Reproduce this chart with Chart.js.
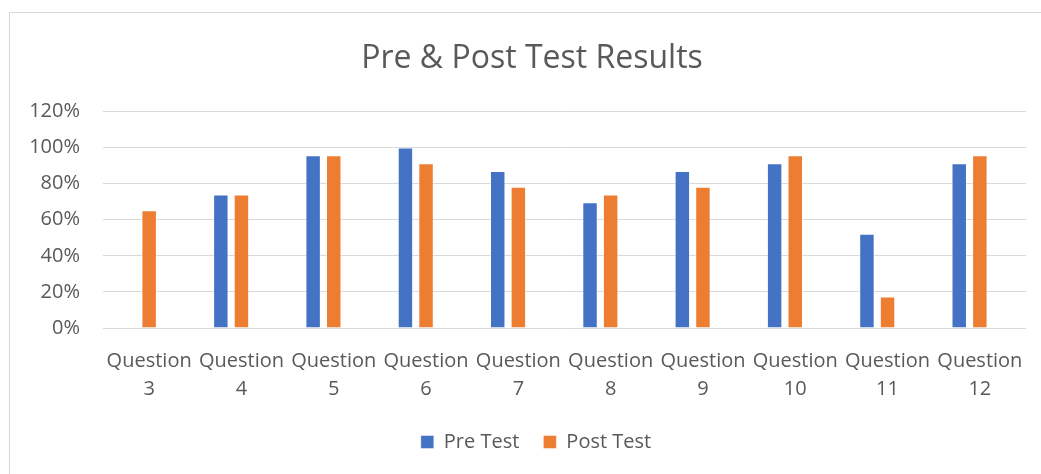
<!DOCTYPE html>
<html lang="en">
<head>
  <meta charset="UTF-8" />
  <title>Pre & Post Test Results</title>
  <script src="https://cdn.jsdelivr.net/npm/chart.js"></script>
  <style>
    html, body {
      margin: 0;
      padding: 0;
      background: #ffffff;
      overflow: hidden;
    }

    #wrap {
      position: relative;
      width: 1041px;
      height: 474px;
    }

    /* chart frame, only top and left edges show in the picture */
    #frame {
      position: absolute;
      left: 9px;
      top: 12px;
      width: 1100px;
      height: 500px;
      border: 1px solid #d9d9d9;
      pointer-events: none;
    }

    #chart {
      position: absolute;
      left: 0;
      top: 0;
    }
  </style>
</head>
<body>

  <div id="wrap">
    <div id="frame"></div>
    <canvas id="chart" width="1041" height="474"></canvas>
  </div>

  <script>
    // data (percent)
    const questions = [
      ['Question', '3'], ['Question', '4'], ['Question', '5'], ['Question', '6'],
      ['Question', '7'], ['Question', '8'], ['Question', '9'], ['Question', '10'],
      ['Question', '11'], ['Question', '12']
    ];
    const preTest  = [0, 73.9, 95.7, 100, 87.0, 69.6, 87.0, 91.3, 52.2, 91.3];
    const postTest = [65.2, 73.9, 95.7, 91.3, 78.3, 73.9, 78.3, 95.7, 17.4, 95.7];
    // the source chart keeps an empty third series, which takes a slot in each group
    const emptySeries = [];
    const yTicks = [0, 20, 40, 60, 80, 100, 120];

    const textColor = '#595959';
    const gridColor = '#d9d9d9';

    Chart.defaults.font.family = "'Open Sans', sans-serif";
    Chart.defaults.color = textColor;

    // title and legend sit a bit right of the canvas centre in the original
    const nudge = {
      id: 'nudge',
      afterLayout(chart) {
        const t = chart.titleBlock;
        if (t) { t.left += 9; t.right += 9; }
        const l = chart.legend;
        if (l) { l.left += 13; l.right += 13; }
      }
    };

    const barStyle = {
      borderColor: 'rgba(255,255,255,0.45)',
      borderWidth: 1,
      categoryPercentage: 0.67,
      barPercentage: 0.75
    };

    new Chart(document.getElementById('chart').getContext('2d'), {
      type: 'bar',
      data: {
        labels: questions,
        datasets: [
          Object.assign({ label: 'Pre Test', data: preTest, backgroundColor: '#4472C4' }, barStyle),
          Object.assign({ label: 'Post Test', data: postTest, backgroundColor: '#ED7D31' }, barStyle),
          Object.assign({ label: '', data: emptySeries, backgroundColor: '#A5A5A5' }, barStyle)
        ]
      },
      options: {
        responsive: false,
        animation: false,
        layout: {
          padding: { left: 20, right: 15, top: 0, bottom: 12 }
        },
        plugins: {
          title: {
            display: true,
            text: 'Pre & Post Test Results',
            color: textColor,
            font: { size: 32, weight: 'normal' },
            padding: { top: 40, bottom: 33 }
          },
          legend: {
            position: 'bottom',
            labels: {
              color: textColor,
              font: { size: 20 },
              boxWidth: 13,
              boxHeight: 13,
              padding: 24,
              filter: item => item.datasetIndex < 2
            }
          },
          tooltip: { enabled: false }
        },
        scales: {
          x: {
            afterFit: s => { s.height = 80; },
            grid: { display: false },
            border: { display: false },
            ticks: {
              color: textColor,
              font: { size: 20, lineHeight: 1.4 },
              padding: 11,
              maxRotation: 0,
              autoSkip: false
            }
          },
          y: {
            min: 0,
            max: 120,
            afterFit: s => { s.width = 83; },
            afterBuildTicks: s => { s.ticks = yTicks.map(v => ({ value: v })); },
            grid: { color: gridColor, lineWidth: 1, drawTicks: false },
            border: { display: false },
            ticks: {
              color: textColor,
              font: { size: 20 },
              padding: 23,
              callback: v => v + '%'
            }
          }
        }
      },
      plugins: [nudge]
    });
  </script>
</body>
</html>
